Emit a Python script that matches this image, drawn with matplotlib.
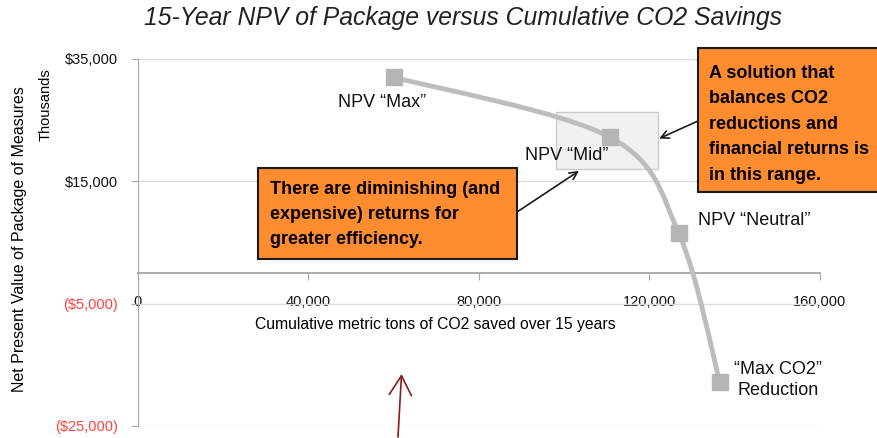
import numpy as np
import matplotlib
matplotlib.use('Agg')
import matplotlib.pyplot as plt
from matplotlib.path import Path
from matplotlib.patches import PathPatch, Rectangle
from matplotlib.ticker import FuncFormatter

plt.rcParams['font.family'] = ['Liberation Sans', 'DejaVu Sans']

# data
co2_saved = [60200, 110800, 126900, 136500]
npv = [32000, 22200, 6500, -17800]
point_labels = ['NPV \u201cMax\u201d', 'NPV \u201cMid\u201d', 'NPV \u201cNeutral\u201d',
                '\u201cMax CO2\u201d\nReduction']
x_ticks = [0, 40000, 80000, 120000, 160000]
y_ticks = [-25000, -5000, 15000, 35000]
range_x = [98000, 122000]
range_y = [17000, 26400]

W, H = 878, 438


def fx(px):
    return px / W


def fy(py):
    return 1 - py / H


fig = plt.figure(figsize=(W / 100, H / 100), dpi=100)
ax = fig.add_axes([fx(137.5), fy(426), (820 - 137.5) / W, (426 - 59) / H])
ax.set_xlim(0, 160000)
ax.set_ylim(-25000, 35000)

# axes styling
for s in ['top', 'right']:
    ax.spines[s].set_visible(False)
ax.spines['left'].set_color('#a6a6a6')
ax.spines['bottom'].set_color('#a6a6a6')
ax.spines['bottom'].set_linewidth(1.3)
ax.spines['bottom'].set_position(('data', 0))
ax.set_xticks(x_ticks)
ax.set_yticks(y_ticks)
ax.xaxis.set_major_formatter(FuncFormatter(lambda v, p: f'{int(v):,}'))


def money(v, p):
    if v < 0:
        return f'(${int(-v):,})'
    return f'${int(v):,}'


ax.yaxis.set_major_formatter(FuncFormatter(money))
ax.tick_params(axis='both', colors='#a6a6a6', labelcolor='#111111', labelsize=10.5, length=5, pad=9)
ax.tick_params(axis='x', pad=11)
for lbl in ax.get_yticklabels():
    if lbl.get_text().startswith('('):
        lbl.set_color('#ff4040')
ax.yaxis.grid(True, color='#dcdcdc', lw=1)
ax.set_axisbelow(True)

# shaded "balanced" range
ax.add_patch(Rectangle((range_x[0], range_y[0]), range_x[1] - range_x[0], range_y[1] - range_y[0],
                       fc='#f0f0f0', ec='#c8c8c8', lw=1, zorder=1, alpha=0.9))

# smoothed line (Excel style bezier through the points, done in display space)
fig.canvas.draw()
pts = ax.transData.transform(np.column_stack([co2_saved, npv]))
n = len(pts)
verts = [pts[0]]
codes = [Path.MOVETO]
for i in range(n - 1):
    p0 = pts[max(i - 1, 0)]
    p1 = pts[i]
    p2 = pts[i + 1]
    p3 = pts[min(i + 2, n - 1)]
    c1 = p1 + (p2 - p0) / 6
    c2 = p2 - (p3 - p1) / 6
    verts += [c1, c2, p2]
    codes += [Path.CURVE4] * 3
verts = ax.transData.inverted().transform(np.array(verts))
ax.add_patch(PathPatch(Path(verts, codes), fc='none', ec='#bdbdbd', lw=3.5, zorder=3,
                       capstyle='round'))
ax.plot(co2_saved, npv, ls='none', marker='s', ms=11, color='#b4b4b4', zorder=4)

# point labels
offsets = [(-9, -18), (-31, -13), (14, 9), (42, 1.5)]
has = ['center', 'center', 'left', 'center']
for x, y, t, off, ha in zip(co2_saved, npv, point_labels, offsets, has):
    ax.annotate(t, (x, y), xytext=off, textcoords='offset points', ha=ha, va='center',
                fontsize=13, linespacing=1.3, color='#111111')

# title and axis titles
fig.text(fx(463), fy(18), '15-Year NPV of Package versus Cumulative CO2 Savings',
         ha='center', va='center', fontsize=17.8, style='italic', color='#222222')
fig.text(fx(435), fy(324), 'Cumulative metric tons of CO2 saved over 15 years',
         ha='center', va='center', fontsize=11.3)
fig.text(fx(20), fy(239), 'Net Present Value of Package of Measures',
         ha='center', va='center', rotation=90, fontsize=11.5)
fig.text(fx(46), fy(105), 'Thousands', ha='center', va='center', rotation=90, fontsize=10.5)

# orange callout boxes
orange = '#ff8c2e'
fig.add_artist(Rectangle((fx(258), fy(259)), (517 - 258) / W, (259 - 168) / H,
                         transform=fig.transFigure, fc=orange, ec='#1a1a1a', lw=1.5))
fig.text(fx(270), fy(181), 'There are diminishing (and\nexpensive) returns for\ngreater efficiency.',
         ha='left', va='top', fontsize=13, fontweight='bold', linespacing=1.6)
fig.add_artist(Rectangle((fx(698), fy(192)), (885 - 698) / W, (192 - 48) / H,
                         transform=fig.transFigure, fc=orange, ec='#1a1a1a', lw=1.5))
fig.text(fx(709), fy(65),
         'A solution that\nbalances CO2\nreductions and\nfinancial returns is\nin this range.',
         ha='left', va='top', fontsize=13, fontweight='bold', linespacing=1.65)

# arrows
arrow = dict(arrowstyle='->', color='#1a1a1a', lw=1.2, mutation_scale=14, shrinkA=0, shrinkB=0)
ax.annotate('', xy=(103500, 16700), xytext=(fx(517), fy(212)), textcoords='figure fraction',
            arrowprops=arrow, annotation_clip=False)
ax.annotate('', xy=(122300, 22000), xytext=(fx(698), fy(121)), textcoords='figure fraction',
            arrowprops=arrow, annotation_clip=False)
red_arrow = dict(arrowstyle='->, head_length=1.4, head_width=0.8', color='#8b1a1a', lw=1.2,
                 mutation_scale=10, shrinkA=0, shrinkB=0)
ax.annotate('', xy=(61900, -16500), xytext=(fx(398), fy(437)), textcoords='figure fraction',
            arrowprops=red_arrow, annotation_clip=False)

fig.savefig('out.png', dpi=100)
